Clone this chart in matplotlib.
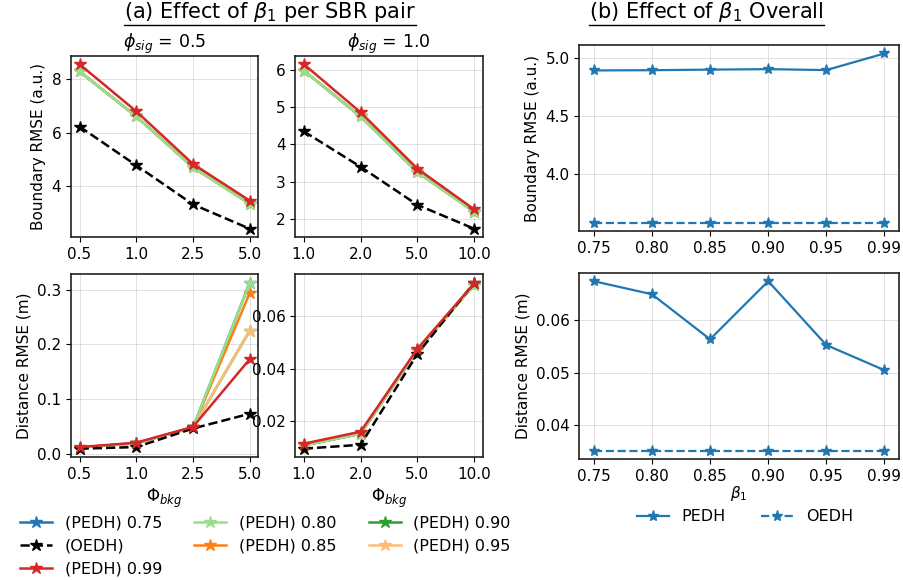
import numpy as np
import matplotlib.pyplot as plt
from matplotlib.lines import Line2D

plt.rcParams['font.size'] = 11

# x categories
bkg_s05 = ['0.5', '1.0', '2.5', '5.0']
bkg_s10 = ['1.0', '2.0', '5.0', '10.0']
betas = ['0.75', '0.80', '0.85', '0.90', '0.95', '0.99']

# boundary RMSE per SBR pair (phi_sig = 0.5 / 1.0)
bnd_s05 = {
    '0.75': [8.30, 6.62, 4.72, 3.36],
    '0.80': [8.30, 6.62, 4.72, 3.36],
    '0.85': [8.30, 6.62, 4.72, 3.36],
    '0.90': [8.30, 6.62, 4.72, 3.36],
    '0.95': [8.30, 6.62, 4.72, 3.36],
    '0.99': [8.57, 6.81, 4.84, 3.47],
}
bnd_s05_oedh = [6.24, 4.79, 3.33, 2.42]
bnd_s10 = {
    '0.75': [5.98, 4.75, 3.26, 2.20],
    '0.80': [5.98, 4.75, 3.26, 2.20],
    '0.85': [5.98, 4.75, 3.26, 2.20],
    '0.90': [5.98, 4.75, 3.26, 2.20],
    '0.95': [5.98, 4.75, 3.26, 2.20],
    '0.99': [6.15, 4.86, 3.35, 2.26],
}
bnd_s10_oedh = [4.35, 3.40, 2.38, 1.74]

# distance RMSE per SBR pair
dist_s05 = {
    '0.75': [0.011, 0.019, 0.048, 0.313],
    '0.80': [0.011, 0.019, 0.048, 0.313],
    '0.85': [0.011, 0.019, 0.048, 0.294],
    '0.90': [0.011, 0.019, 0.048, 0.225],
    '0.95': [0.011, 0.019, 0.048, 0.225],
    '0.99': [0.012, 0.020, 0.049, 0.173],
}
dist_s05_oedh = [0.009, 0.012, 0.046, 0.073]
dist_s10 = {
    '0.75': [0.0108, 0.0152, 0.0470, 0.0720],
    '0.80': [0.0108, 0.0152, 0.0470, 0.0720],
    '0.85': [0.0108, 0.0152, 0.0470, 0.0720],
    '0.90': [0.0108, 0.0152, 0.0470, 0.0720],
    '0.95': [0.0108, 0.0152, 0.0470, 0.0720],
    '0.99': [0.0114, 0.0160, 0.0476, 0.0725],
}
dist_s10_oedh = [0.0095, 0.0110, 0.0456, 0.0728]

# overall
pedh_bnd = [4.894, 4.896, 4.901, 4.905, 4.897, 5.040]
oedh_bnd = [3.586, 3.586, 3.586, 3.586, 3.586, 3.586]
pedh_dist = [0.0675, 0.0650, 0.0564, 0.0675, 0.0553, 0.0505]
oedh_dist = [0.0351, 0.0351, 0.0351, 0.0351, 0.0351, 0.0351]

colors = {'0.75': '#1f77b4', '0.80': '#98df8a', '0.85': '#ff7f0e',
          '0.90': '#2ca02c', '0.95': '#ffbb78', '0.99': '#d62728'}
draw_order = ['0.75', '0.85', '0.90', '0.95', '0.80', '0.99']

W, H = 904, 580
fig = plt.figure(figsize=(9.04, 5.8), dpi=100)


def px_axes(x0, y0, x1, y1):
    return fig.add_axes([x0 / W, 1 - y1 / H, (x1 - x0) / W, (y1 - y0) / H])


def style(ax):
    ax.grid(True, color='#cccccc', alpha=0.6, linewidth=0.7)
    for s in ax.spines.values():
        s.set_linewidth(1.2)
        s.set_color('#222222')


ax00 = px_axes(71, 56, 258.3, 237)
ax01 = px_axes(295.3, 56, 482.7, 237)
ax10 = px_axes(71, 274.3, 258.3, 457)
ax11 = px_axes(295.3, 274.3, 482.7, 457)
axb0 = px_axes(579.3, 45, 899, 231)
axb1 = px_axes(579.3, 272.7, 899, 459.3)

handles = {}
panels = [(ax00, bkg_s05, bnd_s05, bnd_s05_oedh),
          (ax01, bkg_s10, bnd_s10, bnd_s10_oedh),
          (ax10, bkg_s05, dist_s05, dist_s05_oedh),
          (ax11, bkg_s10, dist_s10, dist_s10_oedh)]
for ax, xl, d, oedh in panels:
    x = np.arange(len(xl))
    for b in draw_order:
        if b == '0.99':
            h, = ax.plot(x, oedh, color='black', ls='--', marker='*', ms=9, lw=1.8)
            handles['OEDH'] = h
        h, = ax.plot(x, d[b], color=colors[b], marker='*', ms=9, lw=1.8)
        handles[b] = h
    ax.set_xticks(x)
    ax.set_xticklabels(xl)
    style(ax)

ax00.set_title(r'$\phi_{sig}$ = 0.5', fontsize=12.5)
ax01.set_title(r'$\phi_{sig}$ = 1.0', fontsize=12.5)
ax00.set_ylabel('Boundary RMSE (a.u.)')
ax10.set_ylabel('Distance RMSE (m)')
ax10.set_xlabel(r'$\Phi_{bkg}$', fontsize=12)
ax11.set_xlabel(r'$\Phi_{bkg}$', fontsize=12)
ax00.set_yticks([4, 6, 8])
ax01.set_yticks([2, 3, 4, 5, 6])
ax10.set_yticks([0.0, 0.1, 0.2, 0.3])
ax11.set_yticks([0.02, 0.04, 0.06])

xb = np.arange(len(betas))
for ax, p, o in [(axb0, pedh_bnd, oedh_bnd), (axb1, pedh_dist, oedh_dist)]:
    hp, = ax.plot(xb, p, color='#1f77b4', marker='*', ms=8, lw=1.6, label='PEDH')
    ho, = ax.plot(xb, o, color='#1f77b4', ls='--', marker='*', ms=8, lw=1.6, label='OEDH')
    ax.set_xticks(xb)
    ax.set_xticklabels(betas)
    style(ax)
axb0.set_ylabel('Boundary RMSE (a.u.)')
axb1.set_ylabel('Distance RMSE (m)')
axb1.set_xlabel(r'$\beta_1$', labelpad=0)
axb0.set_yticks([4.0, 4.5, 5.0])
axb1.set_yticks([0.04, 0.05, 0.06])

leg_order = ['0.75', 'OEDH', '0.99', '0.80', '0.85', '0.90', '0.95']
leg_labels = ['(OEDH)' if k == 'OEDH' else '(PEDH) ' + k for k in leg_order]
fig.legend([handles[k] for k in leg_order], leg_labels, ncol=3, frameon=False,
           loc='upper left', bbox_to_anchor=(14 / W, 1 - 509 / H),
           fontsize=11.5, handlelength=2, columnspacing=2.0,
           labelspacing=0.5, borderaxespad=0)
fig.legend([hp, ho], ['PEDH', 'OEDH'], ncol=2, frameon=False,
           loc='upper center', bbox_to_anchor=(745 / W, 1 - 503 / H),
           fontsize=11.5, handlelength=2, columnspacing=2.2, borderaxespad=0)

# section titles with underline
t1 = fig.text(270 / W, 1 - 12 / H, r'(a) Effect of $\beta_1$ per SBR pair',
              ha='center', va='center', fontsize=15)
t2 = fig.text(706.7 / W, 1 - 12 / H, r'(b) Effect of $\beta_1$ Overall',
              ha='center', va='center', fontsize=15)
fig.canvas.draw()
inv = fig.transFigure.inverted()
for t in (t1, t2):
    bb = t.get_window_extent().transformed(inv)
    fig.add_artist(Line2D([bb.x0, bb.x1], [1 - 24.5 / H, 1 - 24.5 / H],
                          color='black', lw=1.0, transform=fig.transFigure))

fig.savefig('out.png', dpi=100)
